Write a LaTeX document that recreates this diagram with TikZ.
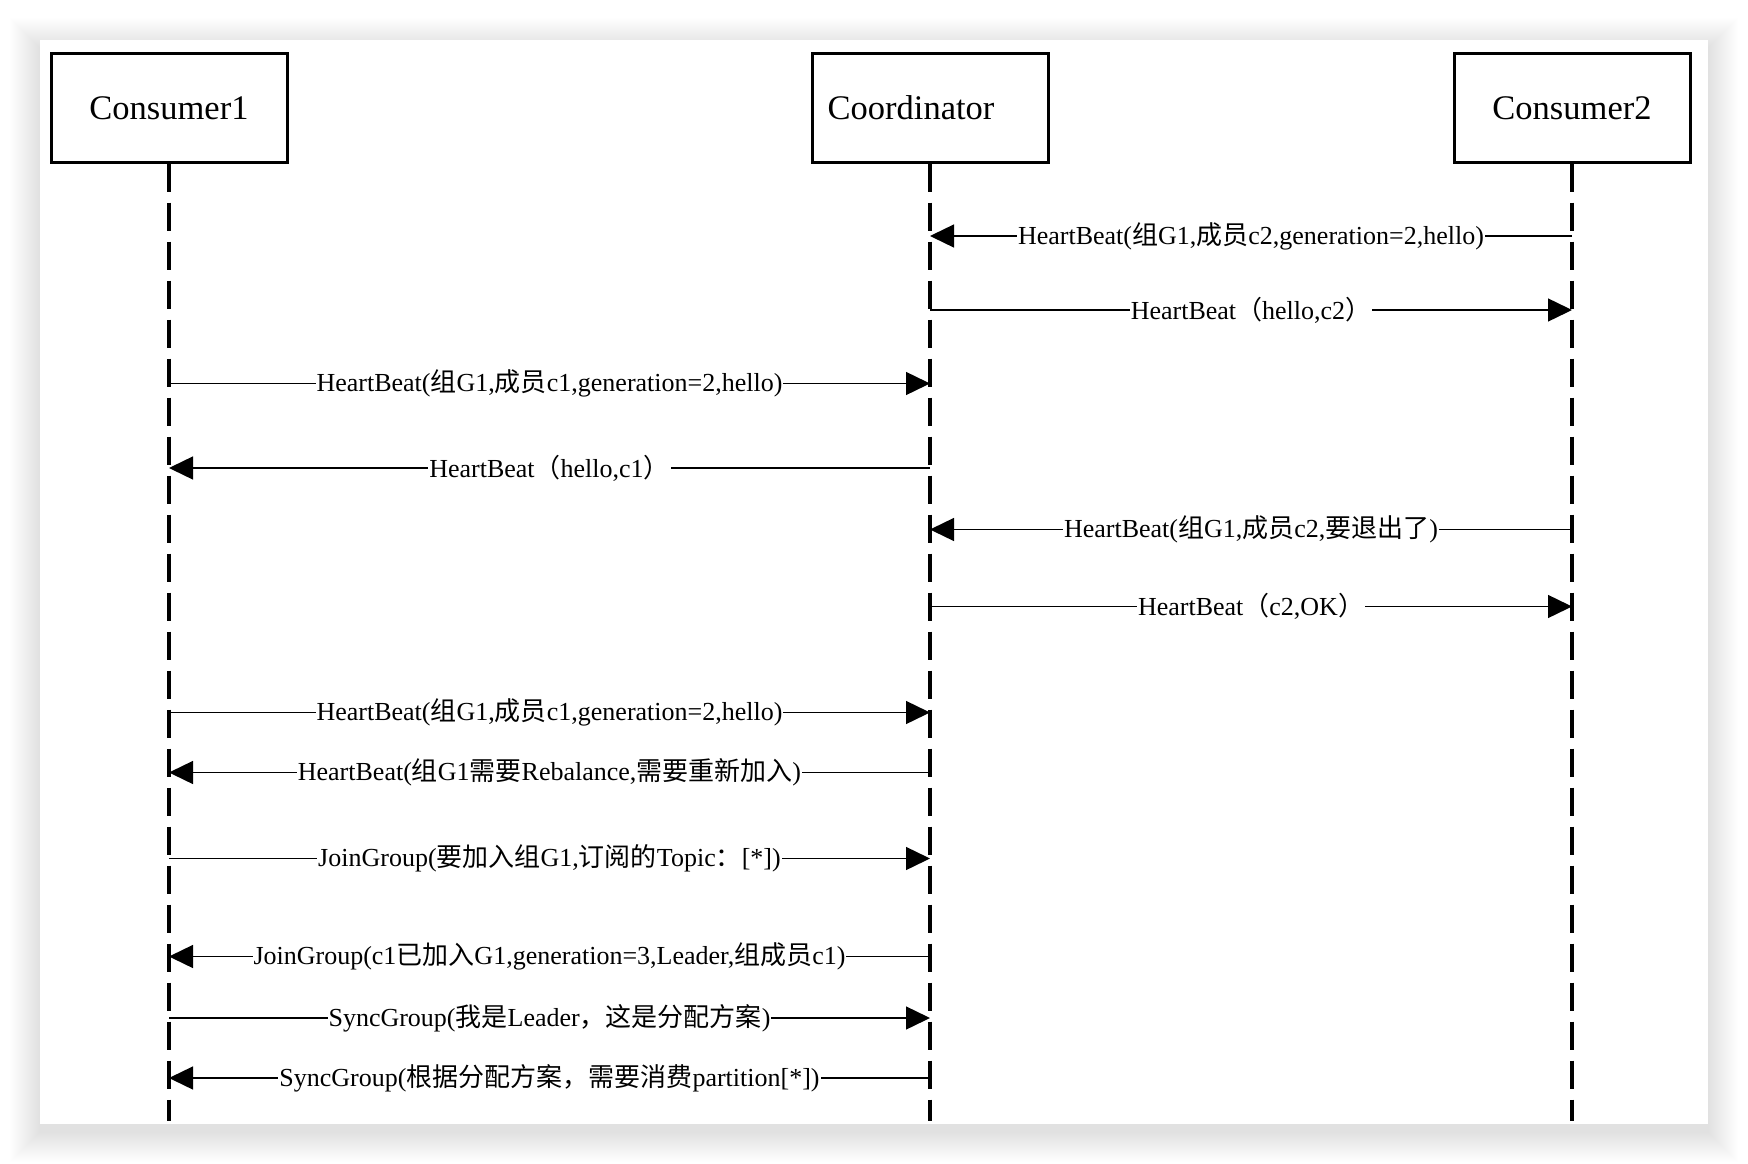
\documentclass[tikz,border=0pt]{standalone}
\usepackage{fontspec}
\setmainfont{Liberation Serif}
\newfontfamily\cjk{Noto Sans CJK SC}
\usetikzlibrary{arrows.meta}
\newcommand\zh[1]{{\cjk #1}}
\begin{document}
\begin{tikzpicture}[x=1pt,y=-1pt,
  actor/.style={draw, line width=3pt, minimum width=236pt, minimum height=108pt, inner sep=0pt, font=\fontsize{34.5}{40}\selectfont},
  titletext/.style={inner sep=0pt, font=\fontsize{34.5}{40}\selectfont},
  life/.style={line width=3.2pt, dash pattern=on 28pt off 11pt},
  msg/.style={line width=1.4pt, -{Triangle[length=24pt,width=23pt]}},
  lbl/.style={fill=white, inner xsep=1pt, inner ysep=1pt, font=\fontsize{26}{30}\selectfont}]
% page and shadow
\useasboundingbox (0,0) rectangle (1748,1164);
\fill[white] (0,0) rectangle (1748,1164);
\foreach \i in {1,...,30} {
  \fill[black, opacity=0.0035] (40-\i,40-\i+8) rectangle (1708+\i,1124+\i+8);
}
\fill[white] (40,40) rectangle (1708,1124);
% actors
\node[actor] (c1) at (169,108) {Consumer1};
\node[actor] (co) at (930,108) {};
\node[titletext, anchor=west] (cot) at ([xshift=17pt]co.west) {Coordinator};
\node[actor] (c2) at (1572,108) {Consumer2};
% lifeline ends
\coordinate (c1end) at (169,1121);
\coordinate (coend) at (930,1121);
\coordinate (c2end) at (1572,1121);
\draw[life] (c1.south) -- (c1end);
\draw[life] (co.south) -- (coend);
\draw[life] (c2.south) -- (c2end);
% message rows
\coordinate (y1) at (0,236);
\coordinate (y2) at (0,310);
\coordinate (y3) at (0,383.5);
\coordinate (y4) at (0,468);
\coordinate (y5) at (0,529.5);
\coordinate (y6) at (0,606.5);
\coordinate (y7) at (0,712.5);
\coordinate (y8) at (0,772.5);
\coordinate (y9) at (0,858.5);
\coordinate (y10) at (0,956.5);
\coordinate (y11) at (0,1018);
\coordinate (y12) at (0,1078);
% messages
\draw[msg] (c2 |- y1) -- node[lbl] {HeartBeat(\zh{组}G1,\zh{成员}c2,generation=2,hello)} (co |- y1);
\draw[msg] (co |- y2) -- node[lbl] {HeartBeat\zh{（}hello,c2\zh{）}} (c2 |- y2);
\draw[msg] (c1 |- y3) -- node[lbl] {HeartBeat(\zh{组}G1,\zh{成员}c1,generation=2,hello)} (co |- y3);
\draw[msg] (co |- y4) -- node[lbl] {HeartBeat\zh{（}hello,c1\zh{）}} (c1 |- y4);
\draw[msg] (c2 |- y5) -- node[lbl] {HeartBeat(\zh{组}G1,\zh{成员}c2,\zh{要退出了})} (co |- y5);
\draw[msg] (co |- y6) -- node[lbl] {HeartBeat\zh{（}c2,OK\zh{）}} (c2 |- y6);
\draw[msg] (c1 |- y7) -- node[lbl] {HeartBeat(\zh{组}G1,\zh{成员}c1,generation=2,hello)} (co |- y7);
\draw[msg] (co |- y8) -- node[lbl] {HeartBeat(\zh{组}G1\zh{需要}Rebalance,\zh{需要重新加入})} (c1 |- y8);
\draw[msg] (c1 |- y9) -- node[lbl] {JoinGroup(\zh{要加入组}G1,\zh{订阅的}Topic\zh{：}[*])} (co |- y9);
\draw[msg] (co |- y10) -- node[lbl] {JoinGroup(c1\zh{已加入}G1,generation=3,Leader,\zh{组成员}c1)} (c1 |- y10);
\draw[msg] (c1 |- y11) -- node[lbl] {SyncGroup(\zh{我是}Leader\zh{，这是分配方案})} (co |- y11);
\draw[msg] (co |- y12) -- node[lbl] {SyncGroup(\zh{根据分配方案，需要消费}partition[*])} (c1 |- y12);
\end{tikzpicture}
\end{document}
